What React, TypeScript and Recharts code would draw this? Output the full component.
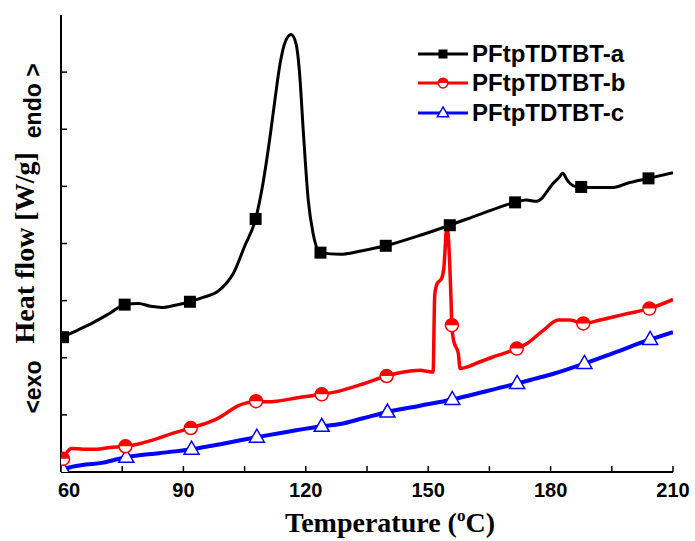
// DSC de PFtpTDTBT-a/b/c: flujo de calor vs. temperatura, marcadores cada ~16 °C.
import { LineChart, Line, XAxis, YAxis, Legend, Label } from 'recharts'

const SANS = '"Liberation Sans", Arial, sans-serif'
const SERIF = '"Liberation Serif", "Times New Roman", serif'

const seriesNames = ['PFtpTDTBT-a', 'PFtpTDTBT-b', 'PFtpTDTBT-c']
const seriesColors = ['#000000', '#ff0000', '#0000ff']

// PFtpTDTBT-a (negro)
const tempA = [
  60, 60.5, 64, 68, 72, 75.6, 79, 82, 84.7, 88, 91.6, 95, 98.2, 100.5, 102.2, 105, 107.7, 109.5,
  111.2, 112.5, 113.7, 114.9, 116.4, 117.6, 118.4, 119.4, 120.6, 121.8, 123.6, 128.4, 133.5, 139.6,
  147, 155.3, 163, 171.3, 174, 176.6, 178, 179, 180.6, 182, 183, 184, 184.8, 186, 187.5, 191, 195.4,
  199, 204, 210,
]
const heatA = [
  2.34, 2.36, 2.48, 2.62, 2.78, 2.93, 2.95, 2.9, 2.88, 2.92, 2.98, 3.06, 3.15, 3.3, 3.47, 3.95, 4.43,
  5.05, 5.85, 6.55, 7.15, 7.52, 7.66, 7.5, 7.05, 5.95, 4.76, 4.17, 3.84, 3.81, 3.87, 3.96, 4.12, 4.32,
  4.52, 4.72, 4.76, 4.74, 4.8, 4.9, 5.05, 5.15, 5.23, 5.12, 5.05, 5.0, 4.99, 4.98, 4.98, 5.06, 5.14,
  5.24,
]
const markA = [60.5, 75.6, 91.6, 107.7, 123.6, 139.6, 155.3, 171.3, 187.5, 204]

// PFtpTDTBT-b (rojo)
const tempB = [
  60, 60.5, 61.5, 62.6, 65.5, 68.7, 72, 75.8, 79.5, 83.4, 87.5, 91.8, 95, 98.2, 100.5, 103.1, 105.5,
  107.8, 110.5, 112.9, 118, 123.9, 128.4, 134, 139.8, 144, 148, 150, 151.2, 151.6, 152.2, 153.3,
  153.8, 154.6, 155.3, 155.6, 155.8, 156.2, 157.4, 157.8, 160, 162.7, 167, 171.7, 174.2, 178.2,
  181.9, 184.8, 188, 192.1, 198, 204.2, 210,
]
const heatB = [
  0.2, 0.23, 0.35, 0.41, 0.4, 0.4, 0.43, 0.45, 0.5, 0.58, 0.68, 0.77, 0.84, 0.93, 1.03, 1.15, 1.21,
  1.24, 1.23, 1.24, 1.3, 1.36, 1.42, 1.54, 1.68, 1.75, 1.78, 1.76, 1.75, 3.1, 3.3, 3.39, 3.55, 4.3,
  3.6, 3.01, 2.57, 2.31, 2.07, 1.81, 1.85, 1.93, 2.04, 2.16, 2.25, 2.48, 2.66, 2.66, 2.6, 2.66, 2.76,
  2.86, 3.02,
]
const markB = [60.5, 75.8, 91.8, 107.8, 123.9, 139.8, 155.8, 171.7, 188, 204.2]

// PFtpTDTBT-c (azul)
const tempC = [
  60, 60.5, 62.6, 66, 70, 73, 76, 84, 92, 100, 108, 116, 123.9, 128.4, 134, 140, 148, 155.9, 164,
  171.8, 176, 180.7, 188.3, 196, 204.4, 210,
]
const heatC = [
  0.02, 0.04, 0.09, 0.13, 0.16, 0.21, 0.26, 0.33, 0.4, 0.5, 0.61, 0.71, 0.8, 0.84, 0.94, 1.05, 1.16,
  1.27, 1.41, 1.55, 1.63, 1.72, 1.9, 2.1, 2.32, 2.45,
]
const markC = [60.5, 76, 92, 108, 123.9, 140, 155.9, 171.8, 188.3, 204.4]

const xTicks = [60, 75, 90, 105, 120, 135, 150, 165, 180, 195, 210]
const xLabels = [60, 90, 120, 150, 180, 210]
const yTicks = [1, 2, 3, 4, 5, 6, 7]

type Kind = 'square' | 'circle' | 'triangle'

function Marker({ kind, cx, cy, s = 1 }: { kind: Kind; cx: number; cy: number; s?: number }) {
  if (kind === 'square') {
    const h = 6 * s
    return <rect x={cx - h} y={cy - h} width={2 * h} height={2 * h} fill="#000" />
  }
  if (kind === 'circle') {
    const r = 6.5 * s
    return (
      <g>
        <circle cx={cx} cy={cy} r={r} fill="#fff" stroke="#ff0000" strokeWidth={1.5} />
        <path d={`M${cx - r},${cy} A${r},${r} 0 0 1 ${cx + r},${cy} Z`} fill="#ff0000" />
      </g>
    )
  }
  const w = 7.5 * s
  return (
    <polygon
      points={`${cx},${cy - 8 * s} ${cx - w},${cy + 5 * s} ${cx + w},${cy + 5 * s}`}
      fill="#fff"
      stroke="#0000ff"
      strokeWidth={1.5}
    />
  )
}

const build = (temps: number[], heat: number[], marks: number[]) =>
  temps.map((t, i) => ({ t, v: heat[i], mark: marks.includes(t) }))

const dataA = build(tempA, heatA, markA)
const dataB = build(tempB, heatB, markB)
const dataC = build(tempC, heatC, markC)

const makeDot = (kind: Kind) => (p: any) => {
  const { cx, cy, payload, index } = p
  if (!payload?.mark || cx == null || cy == null) return <g key={index} />
  return (
    <g key={index}>
      <Marker kind={kind} cx={cx} cy={cy} />
    </g>
  )
}

const tickLen = 6

const BottomTick = (p: any) => {
  const { x, y, payload } = p
  const v = payload.value
  const major = xLabels.includes(v)
  return (
    <g>
      <line x1={x} y1={y} x2={x} y2={y - tickLen} stroke="#000" strokeWidth={1.5} />
      {major && (
        <text
          x={x + (v === 60 ? 8 : 0)}
          y={y + 25}
          textAnchor="middle"
          fontFamily={SANS}
          fontWeight={700}
          fontSize={20}
          fill="#000"
        >
          {v}
        </text>
      )}
    </g>
  )
}

const TopTick = (p: any) => (
  <line x1={p.x} y1={p.y} x2={p.x} y2={p.y + tickLen} stroke="#000" strokeWidth={1.5} />
)
const LeftTick = (p: any) => (
  <line x1={p.x} y1={p.y} x2={p.x + tickLen} y2={p.y} stroke="#000" strokeWidth={1.5} />
)
const RightTick = (p: any) => (
  <line x1={p.x} y1={p.y} x2={p.x - tickLen} y2={p.y} stroke="#000" strokeWidth={1.5} />
)

const XTitle = (p: any) => {
  const vb = p.viewBox
  return (
    <text
      x={vb.x + vb.width / 2 + 23}
      y={vb.y + 60}
      textAnchor="middle"
      fontFamily={SERIF}
      fontWeight={700}
      fontSize={28}
      fill="#000"
    >
      <tspan>Temperature (</tspan>
      <tspan fontSize={17} dy={-11}>o</tspan>
      <tspan dy={11}>C)</tspan>
    </text>
  )
}

const YTitle = (p: any) => {
  const vb = p.viewBox
  const cy = vb.y + vb.height / 2 - 5
  return (
    <text transform={`translate(41, ${cy}) rotate(-90)`} x={0} y={0} textAnchor="middle" fill="#000" fontWeight={700}>
      <tspan fontFamily={SANS} fontSize={23}>{'<exo'}</tspan>
      <tspan dx={17} dy={-7.5} fontFamily={SERIF} fontSize={28}>Heat flow [W/g]</tspan>
      <tspan dx={14} dy={7.5} fontFamily={SANS} fontSize={23}>{'endo >'}</tspan>
    </text>
  )
}

const kinds: Kind[] = ['square', 'circle', 'triangle']

const LegendBox = () => (
  <div>
    {seriesNames.map((n, i) => (
      <div key={n} style={{ display: 'flex', alignItems: 'center', height: 29.5 }}>
        <svg width={54} height={20} style={{ display: 'block' }}>
          <line x1={0} y1={10} x2={50} y2={10} stroke={seriesColors[i]} strokeWidth={3} />
          <Marker kind={kinds[i]} cx={25} cy={10} s={0.75} />
        </svg>
        <span style={{ fontFamily: SANS, fontWeight: 700, fontSize: 24, color: '#000', lineHeight: 1 }}>
          {n}
        </span>
      </div>
    ))}
  </div>
)

export default function App() {
  return (
    <div style={{ position: 'absolute', left: 0, top: 0, background: '#fff' }}>
      <LineChart width={695} height={541} margin={{ top: 15, right: 22, bottom: 0, left: 0 }}>
        <XAxis
          dataKey="t"
          type="number"
          domain={[60, 210]}
          ticks={xTicks}
          allowDataOverflow
          height={69}
          axisLine={{ stroke: '#000', strokeWidth: 2 }}
          tickLine={false}
          tickSize={0}
          tickMargin={0}
          tick={(p: any) => <BottomTick {...p} />}
          interval={0}
        >
          <Label content={(p: any) => <XTitle {...p} />} />
        </XAxis>
        <XAxis
          xAxisId="top"
          orientation="top"
          dataKey="t"
          type="number"
          domain={[60, 210]}
          ticks={xTicks}
          allowDataOverflow
          height={0}
          axisLine={{ stroke: '#000', strokeWidth: 2 }}
          tickLine={false}
          tickSize={0}
          tickMargin={0}
          tick={(p: any) => <TopTick {...p} />}
          interval={0}
        />
        <YAxis
          type="number"
          domain={[0, 8]}
          ticks={yTicks}
          allowDataOverflow
          width={61}
          axisLine={{ stroke: '#000', strokeWidth: 2 }}
          tickLine={false}
          tickSize={0}
          tickMargin={0}
          tick={(p: any) => <LeftTick {...p} />}
          interval={0}
        >
          <Label content={(p: any) => <YTitle {...p} />} />
        </YAxis>
        <YAxis
          yAxisId="right"
          orientation="right"
          type="number"
          domain={[0, 8]}
          ticks={yTicks}
          allowDataOverflow
          width={0}
          axisLine={{ stroke: '#000', strokeWidth: 2 }}
          tickLine={false}
          tickSize={0}
          tickMargin={0}
          tick={(p: any) => <RightTick {...p} />}
          interval={0}
        />
        <Legend
          layout="vertical"
          align="center"
          verticalAlign="middle"
          wrapperStyle={{ left: 418, top: 39, width: 'auto', height: 'auto' }}
          content={() => <LegendBox />}
        />
        <Line
          data={dataC}
          dataKey="v"
          name={seriesNames[2]}
          type="monotone"
          stroke={seriesColors[2]}
          strokeWidth={4}
          dot={makeDot('triangle')}
          activeDot={false}
          isAnimationActive={false}
        />
        <Line
          data={dataB}
          dataKey="v"
          name={seriesNames[1]}
          type="monotone"
          stroke={seriesColors[1]}
          strokeWidth={3.5}
          dot={makeDot('circle')}
          activeDot={false}
          isAnimationActive={false}
        />
        <Line
          data={dataA}
          dataKey="v"
          name={seriesNames[0]}
          type="monotone"
          stroke={seriesColors[0]}
          strokeWidth={3}
          dot={makeDot('square')}
          activeDot={false}
          isAnimationActive={false}
        />
      </LineChart>
    </div>
  )
}
